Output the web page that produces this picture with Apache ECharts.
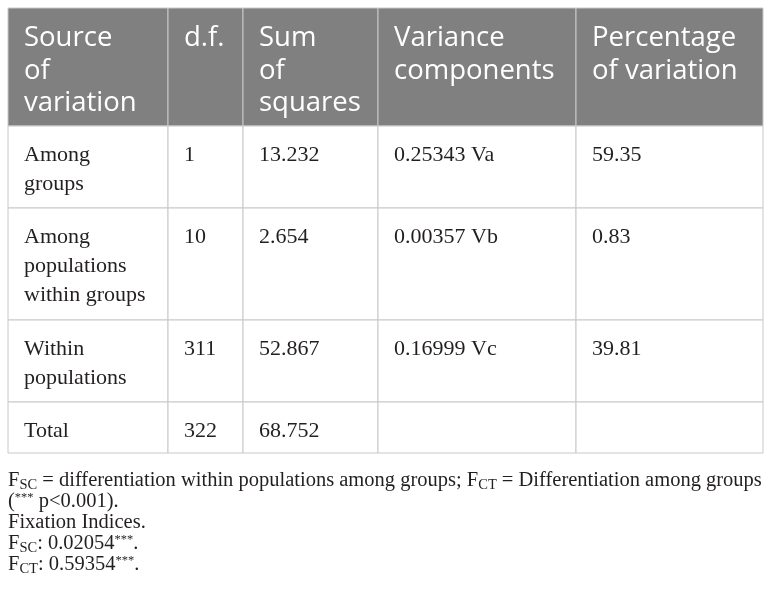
<!DOCTYPE html>
<html lang="en">

<head>
    <meta charset="UTF-8">
    <title>AMOVA table</title>
    <script src="https://cdn.jsdelivr.net/npm/echarts@6/dist/echarts.min.js"></script>
    <style>
        html, body { margin: 0; padding: 0; background: #fff; }
        #table { width: 772px; height: 599px; }
    </style>
</head>

<body>
    <div id="table"></div>
    <script>
        // table content
        var headers = ['Source\nof\nvariation', 'd.f.', 'Sum\nof\nsquares', 'Variance\ncomponents', 'Percentage\nof variation'];
        var sources = ['Among\ngroups', 'Among\npopulations\nwithin groups', 'Within\npopulations', 'Total'];
        var degreesOfFreedom = [1, 10, 311, 322];
        var sumOfSquares = [13.232, 2.654, 52.867, 68.752];
        var varianceValues = [0.25343, 0.00357, 0.16999];
        var varianceLabels = ['Va', 'Vb', 'Vc'];
        var percentVariation = [59.35, 0.83, 39.81];
        var footnotes = [
            '{t|F}{s|SC}{t| = differentiation within populations among groups; F}{s|CT}{t| = Differentiation among groups}',
            '{t|(}{p|***}{t| p<0.001).}',
            '{t|Fixation Indices.}',
            '{t|F}{s|SC}{t|: 0.02054}{p|***}{t|.}',
            '{t|F}{s|CT}{t|: 0.59354}{p|***}{t|.}'
        ];

        // layout of the grid (table units = px inside the grid)
        var colEdges = [0, 160, 235, 370, 568, 755];
        var rowEdges = [0, 118, 200, 312, 394, 445];

        // build cell list: [col, row] + text
        var cells = [];
        var cellText = [];
        headers.forEach(function (h, c) {
            cells.push([c, 0]);
            cellText.push(h);
        });
        sources.forEach(function (s, i) {
            var row = [
                s,
                String(degreesOfFreedom[i]),
                sumOfSquares[i].toFixed(3),
                i < varianceValues.length ? varianceValues[i].toFixed(5) + ' ' + varianceLabels[i] : '',
                i < percentVariation.length ? percentVariation[i].toFixed(2) : ''
            ];
            row.forEach(function (txt, c) {
                cells.push([c, i + 1]);
                cellText.push(txt);
            });
        });

        var chart = echarts.init(document.getElementById('table'));
        chart.setOption({
            animation: false,
            backgroundColor: '#ffffff',
            grid: { left: 8, top: 8, width: 755, height: 445 },
            xAxis: { type: 'value', min: 0, max: 755, show: false },
            yAxis: { type: 'value', min: 0, max: 445, inverse: true, show: false },
            graphic: [{
                type: 'text',
                left: 8,
                top: 469,
                style: {
                    text: footnotes.join('\n'),
                    fill: '#231f20',
                    fontFamily: 'Liberation Serif',
                    fontSize: 20.5,
                    lineHeight: 21,
                    rich: {
                        t: { fontFamily: 'Liberation Serif', fontSize: 20.5, lineHeight: 21, color: '#231f20' },
                        // subscript: pushed down with top padding
                        s: { fontFamily: 'Liberation Serif', fontSize: 14.5, lineHeight: 12, padding: [9, 0, 0, 0], color: '#231f20' },
                        // superscript: pushed up with bottom padding
                        p: { fontFamily: 'Liberation Serif', fontSize: 12.5, lineHeight: 12, padding: [0, 0, 9, 0], color: '#231f20' }
                    }
                }
            }],
            series: [{
                type: 'custom',
                data: cells,
                encode: { x: 0, y: 1 },
                renderItem: function (params, api) {
                    var c = api.value(0);
                    var r = api.value(1);
                    var p0 = api.coord([colEdges[c], rowEdges[r]]);
                    var p1 = api.coord([colEdges[c + 1], rowEdges[r + 1]]);
                    var head = r === 0;
                    return {
                        type: 'group',
                        children: [{
                            type: 'rect',
                            shape: { x: p0[0], y: p0[1], width: p1[0] - p0[0], height: p1[1] - p0[1] },
                            style: { fill: head ? '#808080' : '#ffffff', stroke: '#c8c8c8', lineWidth: 1 }
                        }, {
                            type: 'text',
                            x: p0[0] + 16,
                            y: p0[1] + (head ? 14 : 15),
                            style: {
                                text: cellText[params.dataIndex],
                                fill: head ? '#ffffff' : '#231f20',
                                fontFamily: head ? 'Open Sans' : 'Liberation Serif',
                                fontSize: head ? 27.5 : 22,
                                lineHeight: head ? 32.5 : 28.7,
                                verticalAlign: 'top'
                            }
                        }]
                    };
                }
            }]
        });
    </script>
</body>

</html>
